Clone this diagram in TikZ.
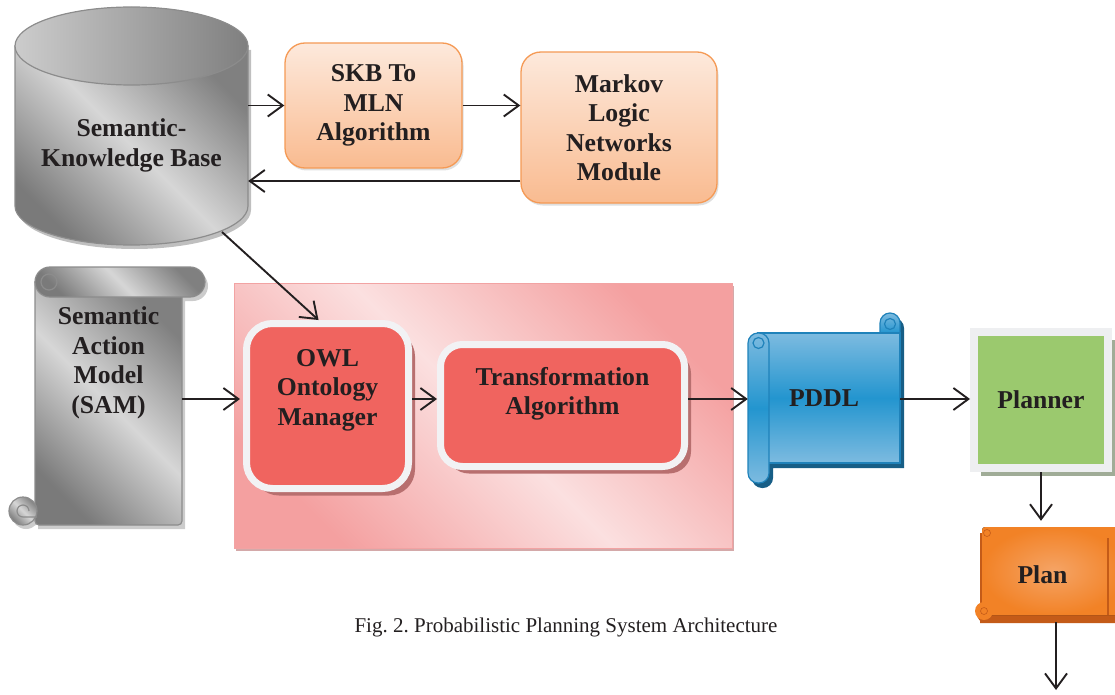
\documentclass[tikz,border=0pt]{standalone}
\usepackage{fontspec}
\setmainfont{Liberation Serif}
\usetikzlibrary{arrows.meta,positioning,calc,shadows}
\definecolor{inkc}{HTML}{231F20}
\definecolor{peachtop}{HTML}{FDE9DC}
\definecolor{peachbot}{HTML}{F9BB90}
\definecolor{peachline}{HTML}{F59A55}
\definecolor{owlred}{HTML}{F0645F}
\definecolor{ringc}{HTML}{F2F2F4}
\definecolor{owlshade}{HTML}{B86F6F}
\definecolor{paneldark}{HTML}{F4A0A0}
\definecolor{panellight}{HTML}{FBE0E0}
\definecolor{panelline}{HTML}{F2A3A3}
\definecolor{pddltop}{HTML}{7DBBE0}
\definecolor{pddlmid}{HTML}{2395CF}
\definecolor{pddlline}{HTML}{1F82BA}
\definecolor{pddlshade}{HTML}{175E86}
\definecolor{leafgreen}{HTML}{9BC96E}
\definecolor{leafring}{HTML}{EEEFF1}
\definecolor{leafshade}{HTML}{A0AC97}
\definecolor{planorange}{HTML}{F28226}
\definecolor{planlight}{HTML}{F5A466}
\definecolor{planshade}{HTML}{C45B18}
\definecolor{greyline}{HTML}{8C8C8C}
\frenchspacing

\begin{document}
\begin{tikzpicture}[x=1pt,y=-1pt,
every node/.style={align=center,text=inkc},
blk/.style={font=\fontsize{25.7}{29.5}\selectfont\bfseries},
arr/.style={draw=inkc,line width=1.9pt,-{Straight Barb[length=15pt,width=22pt]}},
peach/.style={blk,draw=peachline,line width=1.3pt,rounded corners=20pt,top color=peachtop,bottom color=peachbot,
  drop shadow={shadow xshift=1.5pt,shadow yshift=-2.5pt,opacity=.25}},
redbox/.style={draw=ringc,line width=7pt,fill=owlred,
  drop shadow={shadow xshift=6.5pt,shadow yshift=-7pt,fill=owlshade,opacity=1}},
leafbox/.style={blk,draw=leafring,line width=8pt,fill=leafgreen,
  drop shadow={shadow xshift=7pt,shadow yshift=-8pt,fill=leafshade,opacity=1}},
greyfill/.style={draw=greyline,line width=1.2pt,
  top color=black!50,bottom color=black!52,middle color=black!16,shading angle=-45},
bluefill/.style={draw=pddlline,line width=1.2pt,top color=pddltop,bottom color=pddltop,middle color=pddlmid},
panel/.style={draw=panelline,line width=1pt,
  top color=paneldark,bottom color=paneldark,middle color=panellight,shading angle=-45,
  drop shadow={shadow xshift=2pt,shadow yshift=-3pt,fill=owlshade,opacity=.6}}]
\useasboundingbox (0,0) rectangle (1115,695);

% knowledge base cylinder
\fill[black!25] (18,50) -- (18,210) arc[start angle=180,end angle=360,x radius=116.5pt,y radius=39pt] -- (251,50) -- cycle;
\draw[greyfill] (15,46) -- (15,206) arc[start angle=180,end angle=360,x radius=116.5pt,y radius=39pt] -- (248,46) -- cycle;
\draw[draw=greyline,line width=1.2pt,left color=black!20,right color=black!50] (131.5,46) ellipse[x radius=116.5pt,y radius=39pt];
\node[blk,minimum width=233,minimum height=199] (skb) at (131.5,145.5) {Semantic-\\Knowledge Base};
\coordinate (skbfoot) at (222,232);

% MLN side
\node[peach,minimum width=177,minimum height=125] (skbmln) at (373.5,105.5) {SKB To\\MLN\\Algorithm};
\node[peach,minimum width=196,minimum height=151] (mln) at (619,127.5) {Markov\\Logic\\Networks\\Module};

% SAM scroll
\begin{scope}[xshift=3pt,yshift=-4pt]
\fill[black!20] (35,282) rectangle (182,525) (23,511) circle (14pt) [rounded corners=15pt] (35,267) rectangle (205,297);
\end{scope}
\draw[greyfill] (35,282) [rounded corners=4pt] -- (182,282) -- (182,525) -- (35,525) [sharp corners] -- cycle;
\draw[greyfill] (23,511) circle (14pt);
\draw[greyline,line width=1.2pt] (29,511) arc[start angle=0,end angle=270,radius=6pt] -- (37,517);
\draw[greyfill,rounded corners=15pt] (35,267) rectangle (205,297);
\draw[greyline,line width=1.2pt] (49,282) circle (8pt);
\node[minimum width=147,minimum height=234,label={[blk,yshift=36pt]center:Semantic\\Action\\Model\\(SAM)}] (sam) at (108.5,399) {};

% OWL stage
\draw[panel] (234,283) rectangle (732,548);
\node[redbox,rounded corners=26pt,minimum width=162,minimum height=165,
  label={[blk,yshift=16pt]center:OWL\\Ontology\\Manager}] (owl) at (327.5,406) {};
\node[redbox,rounded corners=22pt,minimum width=244,minimum height=122,
  label={[blk,yshift=11.5pt]center:Transformation\\Algorithm}] (trans) at (562.5,405.5) {};

% PDDL scroll
\begin{scope}[xshift=4pt,yshift=-5pt]
\fill[pddlshade] (758,333) rectangle (900,463) [rounded corners=10pt] (880,313) rectangle (900,353) (748,333) rectangle (769,483);
\end{scope}
\draw[bluefill,rounded corners=10pt] (880,313) rectangle (900,353);
\draw[bluefill] (758,333) rectangle (900,463);
\draw[bluefill,rounded corners=10pt] (748,333) rectangle (769,483);
\draw[pddlline,line width=1.2pt] (758.5,343) circle (5.5pt) (890,324) circle (5.5pt);
\node[blk,minimum width=152,minimum height=130] (pddl) at (824,398) {PDDL};

% planner and plan
\node[leafbox,minimum width=134,minimum height=136] (planner) at (1041,400) {Planner};
\fill[planshade] (980,533) rectangle (1125,623) (986,614) circle (9pt);
\fill[inner color=planlight,outer color=planorange,rounded corners=3pt] (982,527) rectangle (1125,615);
\fill[planorange] (984,611) circle (9pt);
\draw[planshade,line width=.6pt] (987,533) circle (3.5pt) (984,611) circle (3.5pt);
\draw[planshade,line width=1.5pt] (1108,538) -- (1108,615);
\node[blk,minimum width=135,minimum height=95] (plan) at (1042.5,574.5) {Plan};
\coordinate (out) at (1056,690);

% connectors
\draw[arr] (skb.east |- skbmln.west) -- (skbmln.west);
\draw[arr] (skbmln.east) -- (skbmln.east -| mln.west);
\draw[arr] ([yshift=-53.5pt]mln.west) -- ([yshift=-53.5pt]mln.west -| skb.east);
\draw[arr] (skbfoot) -- ([xshift=-9pt]owl.north);
\draw[arr,shorten >=3pt] (sam.east) -- (sam.east -| owl.west);
\draw[arr] (owl.east |- sam.east) -- (trans.west |- sam.east);
\draw[arr] (trans.east |- sam.east) -- (pddl.west |- sam.east);
\draw[arr] (pddl.east |- sam.east) -- (planner.west |- sam.east);
\draw[arr,shorten >=6pt] (planner.south) -- (planner.south |- plan.north);
\draw[arr] (plan.south -| out) -- (out);

\node[font=\fontsize{21}{25}\selectfont] (caption) at (566,627) {Fig. 2. Probabilistic Planning System Architecture};
\end{tikzpicture}
\end{document}
